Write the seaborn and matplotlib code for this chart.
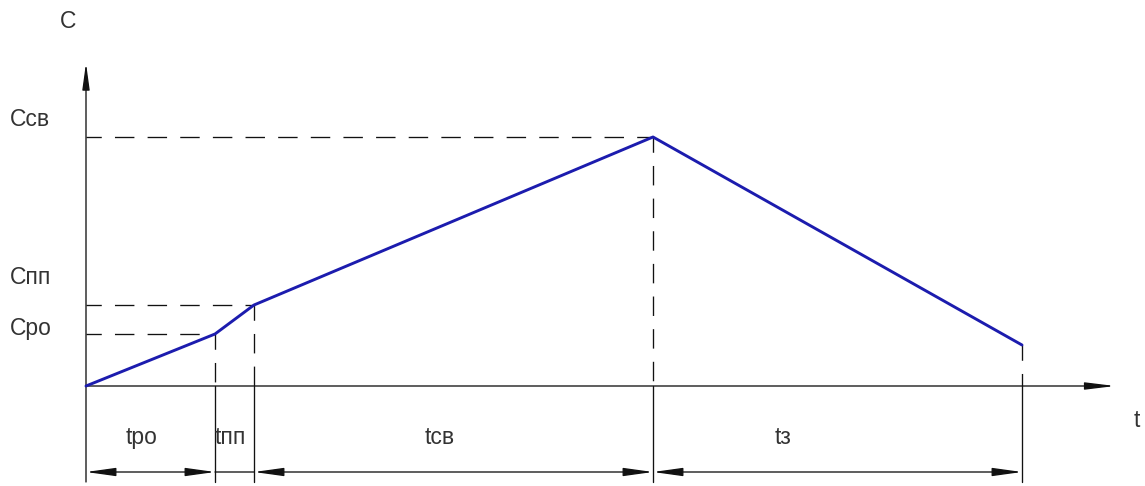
import matplotlib
matplotlib.use("Agg")
import matplotlib.pyplot as plt
import seaborn as sns
import pandas as pd

# ---- data (schematic units) ----
t_nodes = [0, 129, 168, 567, 936]          # boundaries of the stages
c_nodes = [0, 52, 81, 249, 41]             # concentration at those boundaries
stage_labels = ["tро", "tпп", "tсв", "tз"]
level_labels = ["Cро", "Cпп", "Cсв"]
level_values = [52, 81, 249]
level_times = [129, 168, 567]
axis_labels = ["C", "t"]

sns.set_style("white")
plt.rcParams["font.family"] = ["Liberation Sans", "DejaVu Sans"]
plt.rcParams["lines.scale_dashes"] = False

fig = plt.figure(figsize=(11.45, 4.86), dpi=100)
ax = fig.add_axes([0, 0, 1, 1])
ax.set_xlim(-86, 1059)
ax.set_ylim(-100, 386)
ax.axis("off")

df = pd.DataFrame({"t": t_nodes, "C": c_nodes})
sns.lineplot(data=df, x="t", y="C", ax=ax, color="#1c1cae", lw=2.1,
             sort=False, estimator=None, zorder=5)

black = "#111111"
dash = (3, (14, 9.5))
lw = 0.95
ybot = -96
ydim = -86

# axes with arrows
ax.annotate("", xy=(0, 323), xytext=(0, ybot),
            arrowprops=dict(arrowstyle="-|>,head_length=1.6,head_width=0.22",
                            lw=lw, color=black, shrinkA=0, shrinkB=0))
ax.annotate("", xy=(1029, 0), xytext=(0, 0),
            arrowprops=dict(arrowstyle="-|>,head_length=1.8,head_width=0.22",
                            lw=lw, color=black, shrinkA=0, shrinkB=0))

# horizontal dashed level lines
for tv, cv in zip(level_times, level_values):
    ax.plot([0, tv], [cv, cv], color=black, lw=lw, linestyle=dash)

# vertical extension lines
for tv, cv in zip(t_nodes[1:], c_nodes[1:]):
    ax.plot([tv, tv], [cv, 0], color=black, lw=lw, linestyle=dash)
    ax.plot([tv, tv], [0, ybot], color=black, lw=lw)

# dimension line
for i, lab in enumerate(stage_labels):
    a, b = t_nodes[i], t_nodes[i + 1]
    style = "<|-|>,head_length=1.8,head_width=0.25" if b - a > 60 else "-"
    ax.annotate("", xy=(b, ydim), xytext=(a, ydim),
                arrowprops=dict(arrowstyle=style, lw=lw, color=black,
                                shrinkA=0, shrinkB=0))

txt = dict(fontsize=16.5, color="#333333")
# level labels
level_offsets = {"Cро": 6, "Cпп": 28, "Cсв": 17}
for lab, cv in zip(level_labels, level_values):
    ax.text(-76, cv + level_offsets[lab], lab, ha="left", va="center", **txt)

# stage labels
stage_x = [56, 144, 354, 697]
for lab, xv in zip(stage_labels, stage_x):
    ax.text(xv, -51, lab, ha="center", va="center", **txt)

ax.text(-18, 364, axis_labels[0], ha="center", va="center", **txt)
ax.text(1051, -34, axis_labels[1], ha="center", va="center", **txt)

fig.savefig("out.png", dpi=100, facecolor="white")
